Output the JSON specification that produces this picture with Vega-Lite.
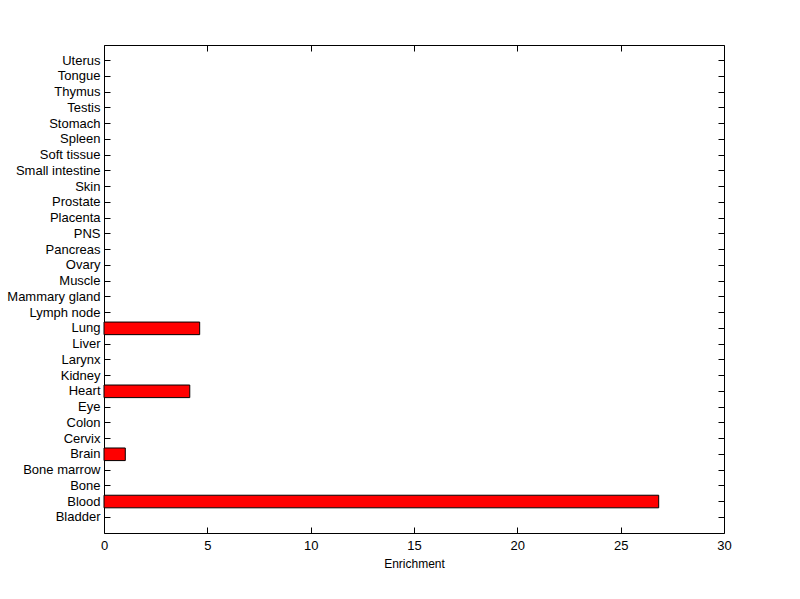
{
  "$schema": "https://vega.github.io/schema/vega-lite/v6.json",
  "width": 620,
  "height": 488,
  "autosize": {"type": "none"},
  "padding": {"left": 104, "top": 45, "right": 76, "bottom": 66},
  "background": "white",
  "config": {
    "view": {"stroke": "black", "strokeWidth": 1},
    "font": "Liberation Sans",
    "axis": {
      "grid": false,
      "domainColor": "black",
      "tickColor": "black",
      "labelColor": "black",
      "titleColor": "black",
      "labelFont": "Liberation Sans",
      "titleFont": "Liberation Sans",
      "labelFontSize": 13,
      "titleFontSize": 12,
      "titleFontWeight": "normal",
      "tickSize": -6,
      "labelPadding": 10,
      "labelFlush": false
    }
  },
  "data": {
    "values": [
      {"tissue": "Bladder", "enrichment": 0},
      {"tissue": "Blood", "enrichment": 26.84},
      {"tissue": "Bone", "enrichment": 0},
      {"tissue": "Bone marrow", "enrichment": 0},
      {"tissue": "Brain", "enrichment": 1.03},
      {"tissue": "Cervix", "enrichment": 0},
      {"tissue": "Colon", "enrichment": 0},
      {"tissue": "Eye", "enrichment": 0},
      {"tissue": "Heart", "enrichment": 4.15},
      {"tissue": "Kidney", "enrichment": 0},
      {"tissue": "Larynx", "enrichment": 0},
      {"tissue": "Liver", "enrichment": 0},
      {"tissue": "Lung", "enrichment": 4.63},
      {"tissue": "Lymph node", "enrichment": 0},
      {"tissue": "Mammary gland", "enrichment": 0},
      {"tissue": "Muscle", "enrichment": 0},
      {"tissue": "Ovary", "enrichment": 0},
      {"tissue": "Pancreas", "enrichment": 0},
      {"tissue": "PNS", "enrichment": 0},
      {"tissue": "Placenta", "enrichment": 0},
      {"tissue": "Prostate", "enrichment": 0},
      {"tissue": "Skin", "enrichment": 0},
      {"tissue": "Small intestine", "enrichment": 0},
      {"tissue": "Soft tissue", "enrichment": 0},
      {"tissue": "Spleen", "enrichment": 0},
      {"tissue": "Stomach", "enrichment": 0},
      {"tissue": "Testis", "enrichment": 0},
      {"tissue": "Thymus", "enrichment": 0},
      {"tissue": "Tongue", "enrichment": 0},
      {"tissue": "Uterus", "enrichment": 0}
    ]
  },
  "layer": [
    {
      "transform": [{"filter": "datum.enrichment > 0"}],
      "mark": {"type": "bar", "color": "#ff0000", "stroke": "black", "strokeWidth": 1},
      "encoding": {
        "y": {
          "field": "tissue",
          "type": "nominal",
          "sort": ["Uterus","Tongue","Thymus","Testis","Stomach","Spleen","Soft tissue","Small intestine","Skin","Prostate","Placenta","PNS","Pancreas","Ovary","Muscle","Mammary gland","Lymph node","Lung","Liver","Larynx","Kidney","Heart","Eye","Colon","Cervix","Brain","Bone marrow","Bone","Blood","Bladder"],
          "scale": {"domain": ["Uterus","Tongue","Thymus","Testis","Stomach","Spleen","Soft tissue","Small intestine","Skin","Prostate","Placenta","PNS","Pancreas","Ovary","Muscle","Mammary gland","Lymph node","Lung","Liver","Larynx","Kidney","Heart","Eye","Colon","Cervix","Brain","Bone marrow","Bone","Blood","Bladder"], "paddingInner": 0.2, "paddingOuter": 0.6},
          "axis": {"title": null, "orient": "left", "domain": false, "labelPadding": 10}
        },
        "x": {
          "field": "enrichment",
          "type": "quantitative",
          "scale": {"domain": [0, 30], "nice": false, "zero": true},
          "axis": {"title": "Enrichment", "orient": "bottom", "values": [0,5,10,15,20,25,30], "domain": false, "labelPadding": 12, "titlePadding": 6}
        }
      }
    },
    {
      "mark": {"type": "bar", "opacity": 0},
      "encoding": {
        "y": {
          "field": "tissue",
          "type": "nominal",
          "sort": ["Uterus","Tongue","Thymus","Testis","Stomach","Spleen","Soft tissue","Small intestine","Skin","Prostate","Placenta","PNS","Pancreas","Ovary","Muscle","Mammary gland","Lymph node","Lung","Liver","Larynx","Kidney","Heart","Eye","Colon","Cervix","Brain","Bone marrow","Bone","Blood","Bladder"],
          "axis": {"title": null, "orient": "right", "labels": false, "domain": false}
        },
        "x": {
          "field": "enrichment",
          "type": "quantitative",
          "axis": {"title": null, "orient": "top", "labels": false, "values": [0,5,10,15,20,25,30], "domain": false}
        }
      }
    }
  ],
  "resolve": {"axis": {"x": "independent", "y": "independent"}}
}
